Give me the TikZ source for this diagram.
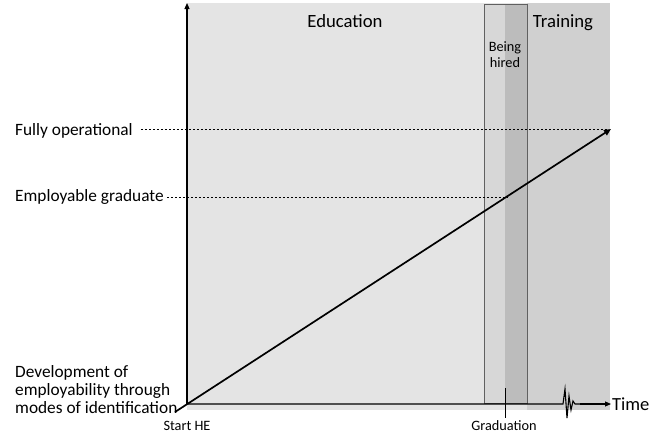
\documentclass[tikz,border=0pt]{standalone}
\usepackage{fontspec}
\setmainfont{Carlito}
\usetikzlibrary{arrows.meta}
\definecolor{edu}{HTML}{E4E4E4}
\definecolor{trn}{HTML}{D0D0D0}
\definecolor{hirelt}{HTML}{D7D7D7}
\definecolor{hiredk}{HTML}{BCBCBC}
\definecolor{boxline}{HTML}{606060}
\tikzset{
  axis/.style={line width=1.1pt, -{Triangle[length=6pt,width=5pt]}},
  guide/.style={dash pattern=on 2.5pt off 1.5pt, line width=0.6pt},
  lbl/.style={font=\fontsize{17.3}{18}\selectfont, inner sep=0pt},
  small/.style={font=\fontsize{14.3}{16}\selectfont, inner sep=0pt},
  head/.style={font=\fontsize{18.7}{21}\selectfont, inner sep=0pt}
}
\begin{document}
\begin{tikzpicture}[x=1pt,y=-1pt]
\useasboundingbox (0,0) rectangle (649,434);
% background regions
\fill[edu] (187,3) rectangle (527,410);
\fill[trn] (527,3) rectangle (610,410);
% being hired box
\fill[hirelt] (484,4) rectangle (505,403);
\fill[hiredk] (505,4) rectangle (527,403);
\draw[boxline, line width=0.8pt] (484,4) rectangle (527,403);
% coordinates
\coordinate (O) at (187,404);
\coordinate (ytop) at (187,3);
\coordinate (xend) at (611,404);
\coordinate (dstart) at (175,412);
\coordinate (dend) at (611,129);
\coordinate (gtop) at (505,388);
\coordinate (gbot) at (505,418);
% headings
\node[head, anchor=base] (edu) at (345,27) {Education};
\node[head, anchor=base] (trn) at (563,27) {Training};
\node[small, align=center, anchor=north] (hired) at (505,41) {Being\\hired};
% level labels
\node[lbl, anchor=base west] (fully) at (15,135) {Fully operational};
\node[lbl, anchor=base west] (empl) at (15,201) {Employable graduate};
\node[lbl, anchor=base west, align=left] (dev) at (15,413) {Development of\\employability through\\modes of identification};
\coordinate (fullyend) at (607,129);
\coordinate (emplend) at (508,197);
\draw[guide] ([xshift=8pt]fully.east |- 0,129) -- (fullyend);
\draw[guide] ([xshift=3pt]empl.east |- 0,197) -- (emplend);
% axes
\draw[axis] (O) -- (ytop);
\draw[line width=1.1pt] (O) -- (560,404) -- (563,404) -- (565,389) -- (567,418) -- (569,396) -- (571,410) -- (573,401) -- (575,404) -- (580,404);
\draw[axis] (580,404) -- (xend);
\node[lbl, anchor=west, font=\fontsize{18.5}{20}\selectfont] (time) at (612,404) {Time};
% graduation tick
\draw[line width=0.6pt] (gtop) -- (gbot);
\node[small, anchor=base] (grad) at (504,430) {Graduation};
\node[small, anchor=base] (start) at (187,430) {Start HE};
% diagonal
\draw[line width=1.7pt, -{Triangle[length=7pt,width=6pt]}] (dstart) -- (dend);
\end{tikzpicture}
\end{document}
